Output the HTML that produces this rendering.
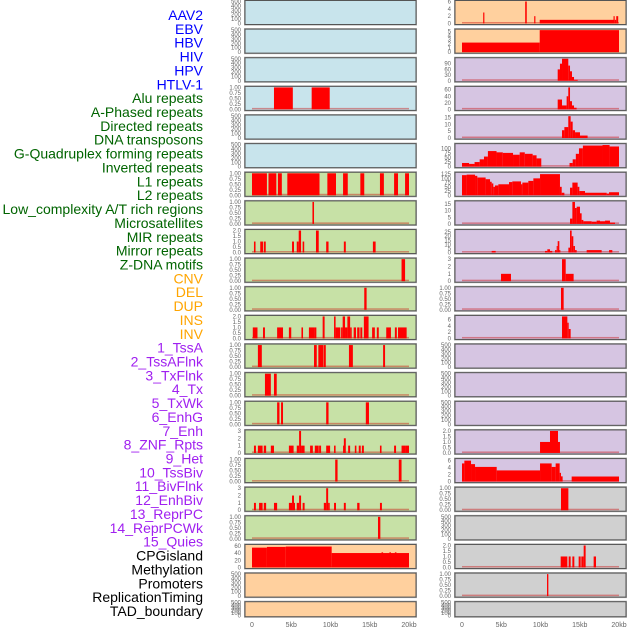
<!DOCTYPE html>
<html><head><meta charset="utf-8">
<style>
html,body{margin:0;padding:0;background:#fff;}
svg{display:block;font-family:"Liberation Sans",sans-serif;}
</style></head>
<body>
<svg id="chart" width="630" height="630" viewBox="0 0 630 630">
<g id="labels"></g>
<g id="panels"></g>
<g id="xaxes"></g>
</svg>
<script>
// ---- labels ----
const labelNames = ["AAV2","EBV","HBV","HIV","HPV","HTLV-1","Alu repeats","A-Phased repeats","Directed repeats","DNA transposons","G-Quadruplex forming repeats","Inverted repeats","L1 repeats","L2 repeats","Low_complexity A/T rich regions","Microsatellites","MIR repeats","Mirror repeats","Z-DNA motifs","CNV","DEL","DUP","INS","INV","1_TssA","2_TssAFlnk","3_TxFlnk","4_Tx","5_TxWk","6_EnhG","7_Enh","8_ZNF_Rpts","9_Het","10_TssBiv","11_BivFlnk","12_EnhBiv","13_ReprPC","14_ReprPCWk","15_Quies","CPGisland","Methylation","Promoters","ReplicationTiming","TAD_boundary"];
const labelGroups = [6,13,5,15,5];
const groupColors = ["#0000ff","#006400","#ffa500","#a020f0","#000000"];

// ---- x axis ----
const xTickValues = [0,5,10,15,20];
const xTickLabels = ["0","5kb","10kb","15kb","20kb"];

// ---- bar data: [startKb, endKb, value] ----
const barsAlu = [[2.8,5.2,1],[7.6,9.9,1]];
const barsL1 = [[0,1.9,1],[2.1,3.1,1],[3.3,3.8,1],[4.5,8.6,1],[9.6,10.7,1],[11.6,12.2,1],[13.8,14.3,1],[16.3,16.8,1],[18.1,18.6,1],[19.5,20,1]];
const barsLowC = [[7.7,7.9,1]];
const barsMIR = [[0.25,0.45,1],[1.05,1.4,1],[1.5,1.75,1],[5.1,5.35,1],[5.7,5.95,1],[5.95,6.25,2],[6.45,6.65,1],[8.15,8.5,2],[9.45,9.75,1],[11.7,11.95,1],[15.4,15.75,1]];
const barsMirror = [[19.05,19.5,1]];
const barsZDNA = [[14.3,14.6,1]];
const barsL11 = [[0.1,0.7,1],[1.4,1.65,1],[3.2,3.95,1],[4.7,5.0,1],[6.3,6.5,1],[7.25,7.95,1],[7.95,8.2,1],[9.0,9.25,2],[10.45,10.65,2],[10.65,11.25,1],[11.35,11.55,1],[11.55,11.85,2],[11.85,12.15,1],[12.15,12.5,2],[12.5,12.7,1],[12.95,13.25,1],[13.4,13.7,1],[13.8,14.05,1],[14.25,14.85,2],[15.3,15.65,1],[15.9,16.15,1],[17.1,17.7,1],[18.2,18.45,1],[18.6,19.7,1]];
const barsL12 = [[0.75,1.25,1],[7.9,8.25,1],[8.45,9.1,1],[9.15,9.4,1],[12.35,12.85,1],[16.7,16.95,1]];
const barsL13 = [[1.65,2.4,1],[2.8,3.15,1]];
const barsL14 = [[3.2,3.5,1],[3.7,3.95,1],[9.45,9.75,1],[14.5,14.9,1]];
const barsL15 = [[0.25,0.5,1],[0.75,1.35,1],[1.5,1.8,1],[2.4,2.8,1],[4.7,5.3,1],[5.7,6.0,1],[6.0,6.25,3],[6.25,6.7,1],[7.4,7.75,1],[8.0,8.5,1],[8.55,8.8,1],[9.45,9.95,1],[10.45,10.65,1],[11.6,11.7,1],[11.7,11.95,2],[12.25,12.5,1],[13.1,13.3,1],[13.6,13.85,1],[14.0,14.25,1],[16.3,16.5,1],[18.1,18.35,1],[19.05,19.5,1],[19.5,20,1]];
const barsL16 = [[10.6,10.9,1],[18.7,19.05,1]];
const barsL17 = [[0.25,0.5,1],[0.9,1.35,1],[1.5,1.8,1],[2.8,3.2,1],[4.7,5.1,1],[5.1,5.35,2],[5.35,5.45,1],[5.7,6.0,1],[6.0,6.25,2],[6.45,6.7,1],[9.15,9.45,1],[9.45,9.7,3],[9.7,9.9,1],[10.45,10.7,1],[11.7,11.95,1],[13.4,13.7,1],[16.3,16.55,1]];
const barsL18 = [[16.05,16.35,1]];
const barsCpG = [[0,1.9,55],[1.9,4.3,57],[4.3,10.15,58],[10.15,20,40],[16.5,16.7,42],[17.5,17.7,42],[18.2,18.4,42]];
const barsAAV2 = [[2.7,2.85,3],[8.05,8.25,6],[9.2,9.35,2],[9.9,19.3,1],[19.3,19.45,2],[19.45,19.65,1],[19.65,19.9,2]];
const barsEBV = [[0,9.9,2.3],[9.9,20,5.3]];
const barsHIV = [[12.19,12.48,60],[12.48,12.74,90],[12.74,13.54,116],[13.54,13.76,80],[13.76,14.01,50],[14.01,14.27,20],[14.27,14.74,5]];
const barsHPV = [[12.19,12.74,30],[12.74,13.33,12],[13.33,13.54,40],[13.54,13.76,67],[13.76,14.01,25],[14.01,14.27,12],[14.27,14.6,5]];
const barsHTLV = [[12.74,13.04,5.7],[13.04,13.54,8],[13.54,13.84,16],[13.84,14.1,12],[14.1,14.4,5.7],[14.4,15.03,4.2],[15.03,16.0,1.8]];
const barsGQ = [[0,0.9,20],[0.9,1.6,15],[1.6,2.25,25],[2.25,2.8,40],[2.8,3.3,55],[3.3,4.4,85],[4.4,5.2,78],[5.2,6.5,75],[6.5,7.35,65],[7.35,8.0,78],[8.0,9.0,70],[9.0,9.5,62],[9.5,10.1,45],[13.7,14.1,20],[14.1,14.5,40],[14.5,14.9,70],[14.9,15.4,100],[15.4,17.9,115],[17.9,18.8,118],[18.8,20,110]];
const barsR6 = [[0,0.59,119],[0.59,1.66,122],[1.66,1.95,115],[1.95,3.01,105],[3.01,3.57,95],[3.57,3.78,80],[3.78,3.99,70],[3.99,4.2,50],[4.2,4.63,58],[4.63,5.99,65],[5.99,6.41,78],[6.41,7.52,82],[7.52,7.69,65],[7.69,8.45,75],[8.45,9.09,85],[9.09,9.94,100],[9.94,12.48,125],[12.48,12.7,50],[12.7,13.04,15],[13.76,14.06,45],[14.06,14.73,75],[14.73,14.95,50],[14.95,15.67,25],[15.67,18.43,15],[18.43,18.73,10],[18.73,20,18]];
const barsR7 = [[13.76,14.06,4],[14.06,14.39,16.6],[14.39,14.61,12],[14.61,15.03,13],[15.03,15.24,8],[15.24,15.46,3],[15.46,16.52,2],[16.52,17.15,1.7],[17.15,17.58,2.5],[17.58,18.22,2],[18.22,18.85,2.5],[18.85,19.49,1]];
const barsR8 = [[3.78,4.29,2],[10.57,10.87,2],[10.87,11.21,4],[11.21,11.5,2],[11.85,12.06,3],[12.06,12.19,8],[12.19,12.4,14],[12.4,12.53,3],[13.55,13.76,6],[13.76,13.97,27],[13.97,14.18,20],[14.18,14.39,8],[14.39,14.61,3],[15.88,17.79,3],[18.73,19.15,3]];
const barsR9 = [[4.97,6.24,1],[12.74,13.21,3],[13.21,14.22,1]];
const barsR10 = [[12.61,12.95,1]];
const barsR11 = [[12.74,13.42,7],[13.42,13.59,5],[13.59,13.84,3]];
const barsR15 = [[9.94,11.21,1],[11.21,12.23,2],[12.23,12.48,1]];
const barsR16 = [[0,0.3,5.2],[0.3,1.15,6],[1.15,1.66,5],[1.66,4.42,4.2],[4.42,9.94,3.2],[9.94,11.42,5.2],[11.42,11.93,4.2],[11.93,12.44,5.2],[12.44,12.61,2.5],[12.61,12.82,1.5],[13.97,20,1.45]];
const barsR17 = [[12.61,13.55,1]];
const barsR19 = [[12.57,13.42,1],[13.59,13.84,1],[14.06,14.31,1],[14.86,15.12,1],[15.2,15.5,1],[15.5,15.75,2],[16.77,17.07,1]];
const barsR20 = [[10.83,11.0,1]];

// ---- tick sets ----
const ticksEmpty = [0,100,200,300,400,500];
const ticks1 = [0,0.25,0.5,0.75,1];
const ticks2 = [0,0.5,1,1.5,2];
const ticks3 = [0,1,2,3];

// panel specs: [col,row,bg,ylimTop,ticks,bars,decimals]
const B="#c8e4ec",G="#c7e1a6",O="#ffd09e",P="#d6c5e2",Y="#d0d0d0";
const panels = [
 [0,0,B,500,ticksEmpty,[],0],[0,1,B,500,ticksEmpty,[],0],[0,2,B,500,ticksEmpty,[],0],
 [0,3,B,1,ticks1,barsAlu,2],[0,4,B,500,ticksEmpty,[],0],[0,5,B,500,ticksEmpty,[],0],
 [0,6,G,1,ticks1,barsL1,2],[0,7,G,1,ticks1,barsLowC,2],[0,8,G,2,ticks2,barsMIR,1],
 [0,9,G,1,ticks1,barsMirror,2],[0,10,G,1,ticks1,barsZDNA,2],[0,11,G,2,ticks2,barsL11,1],
 [0,12,G,1,ticks1,barsL12,2],[0,13,G,1,ticks1,barsL13,2],[0,14,G,1,ticks1,barsL14,2],
 [0,15,G,3,ticks3,barsL15,0],[0,16,G,1,ticks1,barsL16,2],[0,17,G,3,ticks3,barsL17,0],
 [0,18,G,1,ticks1,barsL18,2],[0,19,O,61,[0,20,40,60],barsCpG,0],
 [0,20,O,500,ticksEmpty,[],0],[0,21,O,500,ticksEmpty,[],0],
 [1,0,O,6,[0,2,4,6],barsAAV2,0],[1,1,O,5.3,[0,1,2,3,4,5],barsEBV,0],
 [1,2,P,116,[0,30,60,90],barsHIV,0],[1,3,P,67,[0,20,40,60],barsHPV,0],
 [1,4,P,16.1,[0,5,10,15],barsHTLV,0],[1,5,P,120,[0,25,50,75,100],barsGQ,0],
 [1,6,P,130,[0,25,50,75,100,125],barsR6,0],[1,7,P,16.6,[0,5,10,15],barsR7,0],
 [1,8,P,27,[0,5,10,15,20,25],barsR8,0],[1,9,P,3,ticks3,barsR9,0],
 [1,10,P,1,ticks1,barsR10,2],[1,11,P,7,[0,2,4,6],barsR11,0],
 [1,12,P,500,ticksEmpty,[],0],[1,13,P,500,ticksEmpty,[],0],[1,14,P,500,ticksEmpty,[],0],
 [1,15,P,2,ticks2,barsR15,1],[1,16,P,6.3,[0,2,4,6],barsR16,0],[1,17,Y,1,ticks1,barsR17,2],
 [1,18,Y,500,ticksEmpty,[],0],[1,19,Y,2,ticks2,barsR19,1],[1,20,Y,1,ticks1,barsR20,2],
 [1,21,Y,500,ticksEmpty,[],0]
];

const NS="http://www.w3.org/2000/svg";
function mk(tag, attrs, parent){const e=document.createElementNS(NS,tag);for(const k in attrs)e.setAttribute(k,attrs[k]);parent.appendChild(e);return e;}

// layout
const colLeft=[245,455], panelW=171, kb0=[252,462], kbPx=7.85;
function xScale(col,kb){return kb0[col]+kb*kbPx;}
function rowTop(r){return r*28.63+0.5;}
function rowH(r){return r===21?15:24;}

// labels
const gL=document.getElementById('labels');
let gi=0,cnt=0;
labelNames.forEach((name,k)=>{
  while(cnt>=labelGroups[gi]){cnt-=labelGroups[gi];gi++;}
  cnt++;
  const t=mk('text',{x:203,y:15+k*13.86+5,'text-anchor':'end','font-size':'14',fill:groupColors[gi]},gL);
  
  
  t.textContent=name;
});

// panels
const gP=document.getElementById('panels');
panels.forEach(p=>{
  const [col,row,bg,ylim,ticks,bars,dec]=p;
  const g=mk('g',{},gP);
  
  
  const top=rowTop(row), h=rowH(row), x0=colLeft[col];
  const bottom=top+h-1, ph=h-2;
  const yScale=v=>bottom-v/ylim*ph;
  mk('rect',{x:x0-0.5,y:top-0.5,width:panelW+1,height:h+1,fill:'none',stroke:'#aaa','stroke-width':1},g);
  const bgR=mk('rect',{x:x0,y:top,width:panelW,height:h,fill:bg,stroke:'#555','stroke-width':1},g);
  
  
  if(bars.length){
    const bl=mk('rect',{x:xScale(col,0),y:bottom-1.5,width:xScale(col,20)-xScale(col,0),height:1.5,fill:'rgba(200,0,0,0.4)'},g);
    
    
  }
  bars.forEach(b=>{
    const x1=xScale(col,b[0]), x2=xScale(col,b[1]);
    const yt=Math.max(top+1,yScale(b[2]));
    const r=mk('rect',{x:x1,y:yt,width:Math.max(1,x2-x1),height:bottom-yt,fill:'#ff0000'},g);
    
    
  });
  ticks.forEach(v=>{
    const t=mk('text',{x:x0-4,y:yScale(v)+2,'text-anchor':'end','font-size':'6',fill:'#666'},g);
    
    
    t.textContent=v.toFixed(dec);
  });
});

// x axes
const gX=document.getElementById('xaxes');
[0,1].forEach(col=>{
  xTickValues.forEach((v,i)=>{
    const t=mk('text',{x:xScale(col,v),y:627,'text-anchor':'middle','font-size':'7',fill:'#666'},gX);
    
    
    t.textContent=xTickLabels[i];
  });
});
</script>
</body></html>
